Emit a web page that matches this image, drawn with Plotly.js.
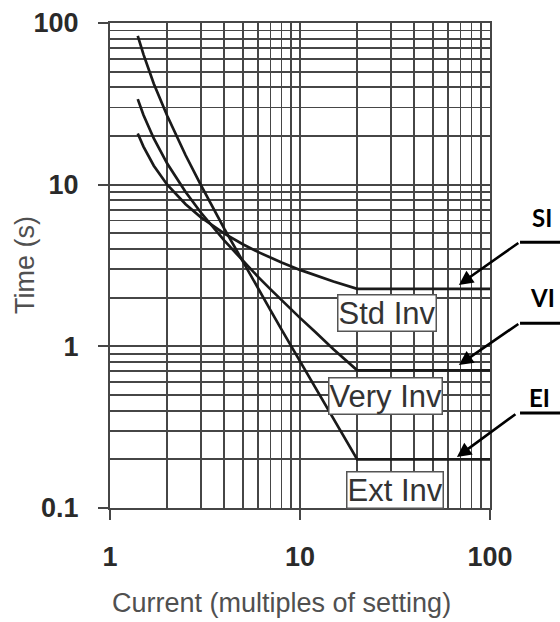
<!DOCTYPE html>
<html>
<head>
<meta charset="utf-8">
<script src="https://cdn.plot.ly/plotly-3.0.1.min.js"></script>
<style>html,body{margin:0;padding:0;background:#fff;}#chart{width:560px;height:622px;}</style>
</head>
<body>
<div id="chart"></div>
<script>
// Current (multiples of setting)
const current = [1.4, 1.5, 1.7, 2, 2.5, 3, 4, 5, 6, 7, 8, 10, 12, 15, 20, 100];
// Operating time (s)
const stdInv  = [20.7, 17.2, 13.1, 10.0, 7.57, 6.30, 4.98, 4.28, 3.84, 3.53, 3.30, 2.97, 2.75, 2.52, 2.27, 2.27];
const veryInv = [33.8, 27.0, 19.3, 13.5, 9.0, 6.75, 4.5, 3.38, 2.7, 2.25, 1.93, 1.5, 1.23, 0.96, 0.71, 0.71];
const extInv  = [83.3, 64.0, 42.1, 26.7, 15.2, 10.0, 5.33, 3.33, 2.29, 1.67, 1.27, 0.81, 0.56, 0.36, 0.20, 0.20];

const curveNames = ['Std Inv', 'Very Inv', 'Ext Inv'];
const calloutNames = ['SI', 'VI', 'EI'];
const xTickVals = [1, 10, 100];
const xTickText = ['1', '10', '100'];
const yTickVals = [0.1, 1, 10, 100];
const yTickText = ['0.1', '1', '10', '100'];

const series = [stdInv, veryInv, extInv];
const traces = series.map((s, i) => ({
  x: current, y: s, type: 'scatter', mode: 'lines', name: curveNames[i],
  line: {color: '#1a1a1a', width: 2.7}, hoverinfo: 'skip'
}));

const gridC = '#464646';
const axisCommon = {
  type: 'log', showgrid: true, gridcolor: gridC, gridwidth: 1.8,
  showline: true, linecolor: gridC, linewidth: 2, mirror: true,
  ticks: 'outside', ticklen: 10, tickwidth: 1.8, tickcolor: gridC,
  tickfont: {family: 'Liberation Sans, Arial, sans-serif', size: 27, color: '#2a2a2a', weight: 'bold'},
  zeroline: false,
  minor: {dtick: 'D1', showgrid: true, gridcolor: gridC, gridwidth: 1.8, ticks: ''}
};

const boxFont = {family: 'Liberation Sans, Arial, sans-serif', size: 31, color: '#333'};
const boxPos = [[0.730, 0.403], [0.726, 0.230], [0.750, 0.038]];
const annotations = [];
curveNames.forEach((n, i) => {
  annotations.push({xref: 'paper', yref: 'paper', x: boxPos[i][0], y: boxPos[i][1],
    text: n, showarrow: false, font: boxFont, bgcolor: '#fff',
    bordercolor: '#555', borderwidth: 1.5, borderpad: 0, xanchor: 'center', yanchor: 'middle'});
});
const tips = [[0.918, 0.460], [0.918, 0.295], [0.913, 0.105]];
const tails = [[61, -43], [61, -42], [60, -44]];
const labelPos = [[1.137, 0.600], [1.137, 0.433], [1.129, 0.227]];
const lineY = [0.548, 0.381, 0.196];
const shapes = [];
calloutNames.forEach((n, i) => {
  annotations.push({xref: 'paper', yref: 'paper', x: tips[i][0], y: tips[i][1], text: '',
    showarrow: true, ax: tails[i][0], ay: tails[i][1], axref: 'pixel', ayref: 'pixel',
    arrowhead: 2, arrowsize: 1.1, arrowwidth: 2.6, arrowcolor: '#000', standoff: 0});
  annotations.push({xref: 'paper', yref: 'paper', x: labelPos[i][0], y: labelPos[i][1], text: '<b>' + n + '</b>',
    showarrow: false, font: {family: 'Lato, Carlito, sans-serif', size: 24, color: '#000'},
    xanchor: 'center', yanchor: 'middle'});
  shapes.push({type: 'line', xref: 'paper', yref: 'paper', x0: 1.079, x1: 1.2, y0: lineY[i], y1: lineY[i],
    line: {color: '#000', width: 3}});
});
annotations.push({xref: 'paper', yref: 'paper', x: -0.224, y: 0.501, text: 'Time (s)', textangle: -90,
  showarrow: false, font: {family: 'Liberation Sans, Arial, sans-serif', size: 27, color: '#505050'},
  xanchor: 'center', yanchor: 'middle'});
annotations.push({xref: 'paper', yref: 'paper', x: 0.45, y: -0.196, text: 'Current (multiples of setting)',
  showarrow: false, font: {family: 'Liberation Sans, Arial, sans-serif', size: 27, color: '#505050'},
  xanchor: 'center', yanchor: 'middle'});

const layout = {
  width: 560, height: 622,
  margin: {l: 110, r: 70, t: 23, b: 114},
  paper_bgcolor: '#fff', plot_bgcolor: '#fff',
  showlegend: false,
  xaxis: Object.assign({}, axisCommon, {range: [0, 2], tickvals: xTickVals, ticktext: xTickText, ticklabelstandoff: 14}),
  yaxis: Object.assign({}, axisCommon, {range: [-1, 2], tickvals: yTickVals, ticktext: yTickText, ticklabelstandoff: 14}),
  annotations: annotations,
  shapes: shapes
};

Plotly.newPlot('chart', traces, layout, {staticPlot: true, displayModeBar: false});
</script>
</body>
</html>
